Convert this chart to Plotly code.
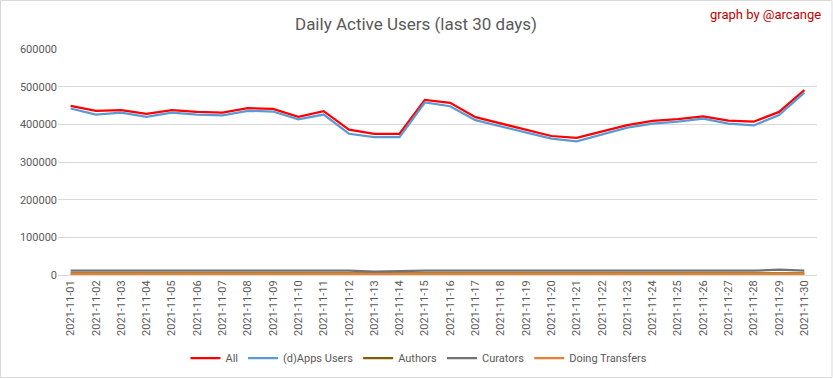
import plotly.graph_objects as go

dates = [f"2021-11-{d:02d}" for d in range(1, 31)]
all_users = [449000, 436000, 438000, 428000, 438000, 433000, 431000, 443000, 441000, 420000,
             435000, 386000, 375000, 375000, 465000, 457000, 419000, 403000, 385000, 369000,
             364000, 380000, 398000, 409000, 414000, 421000, 410000, 407000, 433000, 491000]
dapps_users = [442000, 426000, 431000, 420000, 431000, 426000, 424000, 436000, 434000, 413000,
               426000, 375000, 366000, 366000, 458000, 448000, 411000, 395000, 377000, 362000,
               355000, 372000, 391000, 402000, 407000, 415000, 402000, 397000, 425000, 484000]
authors = [4500, 4400, 4400, 4300, 4400, 4300, 4300, 4400, 4400, 4300,
           4300, 4200, 4100, 4100, 4300, 4300, 4200, 4200, 4100, 4100,
           4100, 4100, 4200, 4200, 4200, 4200, 4100, 4100, 4200, 4300]
curators = [11500, 11500, 11500, 11400, 11200, 9500, 11300, 11500, 11500, 11400,
            11400, 11300, 9000, 11200, 11500, 11500, 11400, 11400, 11300, 11300,
            11300, 11300, 11300, 11300, 11300, 11300, 11300, 11400, 14000, 11800]
transfers = [2200, 2200, 2200, 2400, 2200, 2200, 2100, 2200, 2200, 2100,
             2100, 2100, 2000, 2000, 2300, 2300, 2200, 2100, 2100, 2100,
             2100, 2100, 2200, 2200, 2300, 2300, 2200, 2200, 2200, 2300]

series = [
    ("All", all_users, "#FF0000"),
    ("(d)Apps Users", dapps_users, "#5B9BD5"),
    ("Authors", authors, "#7F6000"),
    ("Curators", curators, "#767171"),
    ("Doing Transfers", transfers, "#ED7D31"),
]

fig = go.Figure()
for name, vals, col in series:
    fig.add_trace(go.Scatter(x=dates, y=vals, name=name, mode="lines",
                             line=dict(color=col, width=2.25)))

font_fam = "Liberation Sans Narrow, Roboto, sans-serif"
PW, PH = 759, 226
fig.update_layout(
    width=833, height=379,
    margin=dict(l=58, r=16, t=49, b=104, autoexpand=False),
    paper_bgcolor="white", plot_bgcolor="white",
    title=dict(text="Daily Active Users (last 30 days)", x=(416 - 58) / PW, xref="paper",
               xanchor="center", y=1 - 24 / 379, yanchor="middle",
               font=dict(family=font_fam, size=17, color="#595959")),
    font=dict(family=font_fam, size=11, color="#595959"),
    showlegend=True,
    legend=dict(orientation="h", x=(419 - 58) / PW, xanchor="center", y=-83 / PH,
                yanchor="middle",
                font=dict(family=font_fam, size=11, color="#595959"),
                traceorder="normal"),
    xaxis=dict(type="category", range=[-0.5, 29.5], tickangle=-90, automargin=False,
               showgrid=False, showline=True, linecolor="#D9D9D9", linewidth=1,
               ticks="", tickfont=dict(size=11, color="#595959")),
    yaxis=dict(range=[0, 600000], dtick=100000, tickformat="d", automargin=False,
               showgrid=True, gridcolor="#D9D9D9", gridwidth=1,
               zeroline=False, showline=False, ticks="",
               tickfont=dict(size=11, color="#595959")),
    annotations=[dict(text="graph by @arcange", xref="paper", yref="paper",
                      x=(823 - 58) / PW, y=1 + (49 - 14) / PH, xanchor="right",
                      yanchor="middle", showarrow=False,
                      font=dict(family=font_fam, size=13, color="#C00000"))],
    shapes=[dict(type="rect", xref="paper", yref="paper",
                 x0=(0.5 - 58) / PW, x1=(832 - 58) / PW,
                 y0=-(377.5 - 275) / PH, y1=1 + (49 - 0.5) / PH,
                 line=dict(color="#D9D9D9", width=1), fillcolor="rgba(0,0,0,0)")],
)

fig.write_html("out.html", config={"displayModeBar": False},
               post_script="document.body.style.margin='0';document.body.style.padding='0';")
